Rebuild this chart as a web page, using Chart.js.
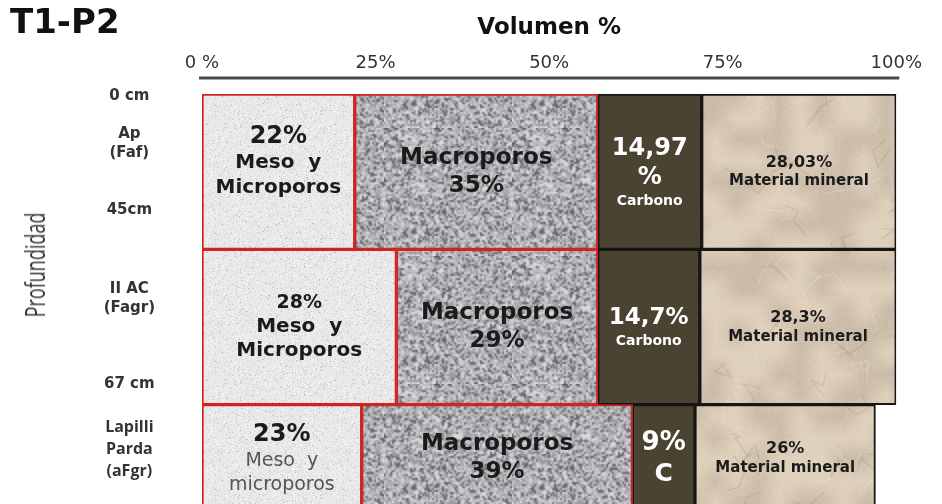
<!DOCTYPE html>
<html>
<head>
<meta charset="utf-8">
<title>T1-P2</title>
<script src="https://cdn.jsdelivr.net/npm/chart.js@4.4.1/dist/chart.umd.min.js"></script>
<style>
  html, body { margin: 0; padding: 0; background: #fff; overflow: hidden; }
  #wrap { position: relative; width: 942px; height: 504px; overflow: hidden; }
  #chart { position: absolute; left: 0; top: 0; }
  .titulo { position: absolute; left: 10px; top: 4px; font: bold 34px/34px "DejaVu Sans"; color: #111; }
  .eje-y {
    position: absolute; left: 34px; top: 265px; white-space: nowrap;
    font: 18px "Open Sans"; color: #333;
    transform: translate(-50%, -50%) rotate(-90deg) scaleY(1.5);
  }
</style>
</head>
<body>
<div id="wrap">
  <canvas id="chart" width="942" height="560"></canvas>
  <div class="titulo">T1-P2</div>
  <div class="eje-y">Profundidad</div>
</div>
<script>
// horizontes del perfil (texto del eje Y, las líneas vacías separan las profundidades)
const horizontes = [
  ["0 cm", "", "Ap", "(Faf)", "", "", "45cm", "", ""],
  ["", "II AC", "(Fagr)", "", "", "", "67 cm"],
  ["Lapilli", "Parda", "(aFgr)", "", "", ""]
];

// volumen % de cada fracción por horizonte
const mesoMicroporos = [22, 28, 23];
const macroporos = [35, 29, 39];
const carbono = [14.97, 14.7, 9];
const materialMineral = [28.03, 28.3, 26];

const xTickLabels = ["0 %", "25%", "50%", "75%", "100%"];

const negro = "#1b1b1b";
const blanco = "#ffffff";
const gris = "#555555";

// 14.97 -> "14,97"
function coma(v) { return String(v).replace(".", ","); }
function pct(v) { return coma(v) + "%"; }

// textos dentro de cada barra: [texto, tamaño, peso, color]
const textosMeso = [
  { dy: -11, lines: [[pct(mesoMicroporos[0]), 24], ["Meso  y", 20], ["Microporos", 20]] },
  { dy: 0, lines: [[pct(mesoMicroporos[1]), 19], ["Meso  y", 20], ["Microporos", 20]] },
  { dy: -24, lines: [[pct(mesoMicroporos[2]), 24], ["Meso  y", 19, "normal", gris], ["microporos", 19, "normal", gris]] }
];
const textosMacro = [
  { dy: 0, lines: [["Macroporos", 23], [pct(macroporos[0]), 23]] },
  { dy: 0, lines: [["Macroporos", 23], [pct(macroporos[1]), 23]] },
  { dy: -24, lines: [["Macroporos", 23], [pct(macroporos[2]), 23]] }
];
const textosCarbono = [
  { dy: 0, lines: [[coma(carbono[0]), 24, "bold", blanco], ["%", 24, "bold", blanco], ["Carbono", 14, "bold", blanco]] },
  { dy: 0, lines: [[pct(carbono[1]), 23, "bold", blanco], ["Carbono", 14, "bold", blanco]] },
  { dy: -24, lines: [[pct(carbono[2]), 26, "bold", blanco], ["C", 25, "bold", blanco]] }
];
const textosMineral = [
  { dy: 0, lines: [[pct(materialMineral[0]), 16], ["Material mineral", 15]] },
  { dy: 0, lines: [[pct(materialMineral[1]), 16], ["Material mineral", 15]] },
  { dy: -24, lines: [[pct(materialMineral[2]), 16], ["Material mineral", 15]] }
];

// ---- texturas de relleno ----
function rand(seed) {
  let s = seed;
  return function () { s = (s * 16807) % 2147483647; return s / 2147483647; };
}

function tile(size, seed, paint) {
  const c = document.createElement("canvas");
  c.width = c.height = size;
  paint(c.getContext("2d"), size, rand(seed));
  return c;
}

function grano(g, size, r, base, amp, manchas) {
  const img = g.createImageData(size, size);
  for (let i = 0; i < size * size; i++) {
    let n = (r() - 0.5) * 2 * amp;
    if (manchas && r() < manchas) n -= 35;
    img.data[i * 4] = base[0] + n;
    img.data[i * 4 + 1] = base[1] + n;
    img.data[i * 4 + 2] = base[2] + n;
    img.data[i * 4 + 3] = 255;
  }
  g.putImageData(img, 0, 0);
}

// meso y microporos: gris muy claro de grano fino
const texClaro = tile(128, 7, function (g, size, r) {
  grano(g, size, r, [233, 233, 233], 10, 0.04);
});

// macroporos: granito gris, granos de unos 2 px suavizados
const texGranito = tile(128, 11, function (g, size, r) {
  const half = tile(size / 2, 23, function (h, s, rr) {
    const img = h.createImageData(s, s);
    for (let i = 0; i < s * s; i++) {
      const p = rr();
      const v = p < 0.17 ? 100 : p < 0.45 ? 155 : p < 0.8 ? 188 : 218;
      img.data[i * 4] = v; img.data[i * 4 + 1] = v; img.data[i * 4 + 2] = v + 4; img.data[i * 4 + 3] = 255;
    }
    h.putImageData(img, 0, 0);
  });
  g.imageSmoothingEnabled = true;
  g.drawImage(half, 0, 0, size, size);
});

// material mineral: papel arrugado beige
const texPapel = tile(512, 5, function (g, size, r) {
  grano(g, size, r, [217, 202, 181], 5);
  const low = tile(24, 31, function (h, s, rr) {
    const img = h.createImageData(s, s);
    for (let i = 0; i < s * s; i++) {
      const v = rr() < 0.5 ? 255 : 130;
      img.data[i * 4] = v; img.data[i * 4 + 1] = v - 10; img.data[i * 4 + 2] = v - 25;
      img.data[i * 4 + 3] = 255;
    }
    h.putImageData(img, 0, 0);
  });
  g.globalAlpha = 0.16;
  g.imageSmoothingEnabled = true;
  g.drawImage(low, 0, 0, size, size);
  g.lineWidth = 1.5;
  for (let k = 0; k < 220; k++) {
    let x = r() * size, y = r() * size;
    g.strokeStyle = k % 2 ? "rgb(250,242,228)" : "rgb(150,128,100)";
    g.globalAlpha = 0.2;
    g.beginPath();
    g.moveTo(x, y);
    for (let j = 0; j < 3; j++) {
      x += (r() - 0.5) * 36; y += (r() - 0.5) * 36;
      g.lineTo(x, y);
    }
    g.stroke();
  }
  g.globalAlpha = 1;
});

const canvas = document.getElementById("chart");
const ctx2d = canvas.getContext("2d");
const patClaro = ctx2d.createPattern(texClaro, "repeat");
const patGranito = ctx2d.createPattern(texGranito, "repeat");
const patPapel = ctx2d.createPattern(texPapel, "repeat");

// línea del eje superior, separada de las barras
const lineaEje = {
  id: "lineaEje",
  afterDraw(chart) {
    const x = chart.scales.x;
    const c = chart.ctx;
    const y = chart.chartArea.top - 16;
    c.save();
    c.strokeStyle = "#4a4a4a";
    c.lineWidth = 3;
    c.beginPath();
    c.moveTo(x.getPixelForValue(0) - 3, y);
    c.lineTo(x.getPixelForValue(100) + 3, y);
    c.stroke();
    c.restore();
  }
};

// textos centrados dentro de cada segmento
const textosBarra = {
  id: "textosBarra",
  afterDatasetsDraw(chart) {
    const c = chart.ctx;
    chart.data.datasets.forEach(function (ds, di) {
      const meta = chart.getDatasetMeta(di);
      meta.data.forEach(function (bar, i) {
        const spec = ds.textos[i];
        const p = bar.getCenterPoint();
        const alturas = spec.lines.map(function (l) { return l[1] * 1.22; });
        const total = alturas.reduce(function (a, b) { return a + b; }, 0);
        let y = p.y + spec.dy - total / 2;
        c.save();
        c.textAlign = "center";
        c.textBaseline = "middle";
        spec.lines.forEach(function (l, k) {
          c.font = (l[2] || "bold") + " " + l[1] + "px 'DejaVu Sans'";
          c.fillStyle = l[3] || negro;
          c.fillText(l[0], p.x, y + alturas[k] / 2);
          y += alturas[k];
        });
        c.restore();
      });
    });
  }
};

new Chart(canvas, {
  type: "bar",
  data: {
    labels: horizontes,
    datasets: [
      { label: "Meso y Microporos", data: mesoMicroporos, backgroundColor: patClaro, borderColor: "#cf2424", textos: textosMeso },
      { label: "Macroporos", data: macroporos, backgroundColor: patGranito, borderColor: "#cf2424", textos: textosMacro },
      { label: "Carbono", data: carbono, backgroundColor: "#4a4331", borderColor: "#161616", textos: textosCarbono },
      { label: "Material mineral", data: materialMineral, backgroundColor: patPapel, borderColor: "#161616", textos: textosMineral }
    ]
  },
  options: {
    indexAxis: "y",
    responsive: false,
    animation: false,
    devicePixelRatio: 1,
    layout: { padding: { right: 45 } },
    datasets: {
      bar: { categoryPercentage: 1, barPercentage: 1, borderWidth: 2, borderSkipped: false }
    },
    plugins: {
      legend: { display: false },
      tooltip: { enabled: false }
    },
    scales: {
      x: {
        position: "top",
        stacked: true,
        min: 0,
        max: 100,
        afterFit: function (s) { s.height = 94; },
        grid: { display: false, drawTicks: false },
        border: { display: false },
        ticks: {
          stepSize: 25,
          padding: 20,
          color: "#333",
          font: { family: "DejaVu Sans", size: 18 },
          callback: function (v, i) { return xTickLabels[i]; }
        },
        title: {
          display: true,
          text: "Volumen %",
          color: "#111",
          font: { family: "DejaVu Sans", size: 23, weight: "bold" },
          padding: { top: 14, bottom: 0 }
        }
      },
      y: {
        stacked: true,
        afterFit: function (s) { s.width = 202; s.paddingTop = 0; s.paddingBottom = 0; },
        grid: { display: false, drawTicks: false },
        border: { display: false },
        ticks: {
          autoSkip: false,
          crossAlign: "center",
          padding: 47,
          color: "#333",
          font: function (ctx) {
            return ctx.index === 2
              ? { family: "Open Sans", size: 16, weight: "bold", lineHeight: "22px" }
              : { family: "DejaVu Sans", size: 15, weight: "bold", lineHeight: "19px" };
          }
        }
      }
    }
  },
  plugins: [lineaEje, textosBarra]
});
</script>
</body>
</html>
